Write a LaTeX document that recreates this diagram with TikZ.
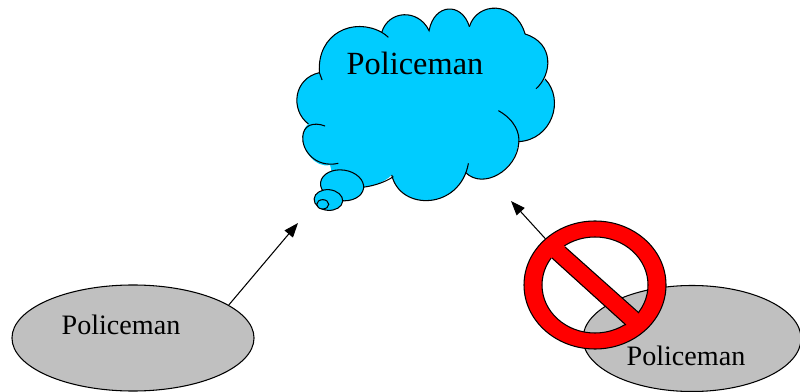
\documentclass[tikz,border=0pt]{standalone}
\usepackage{fontspec}
\setmainfont{Liberation Serif}
\usetikzlibrary{shapes.geometric,arrows.meta}
\definecolor{cloudblue}{RGB}{0,204,255}
\definecolor{ellgray}{RGB}{192,192,192}
\tikzset{
  px/.style={x=0.025cm,y=-0.025cm},
  ln/.style={line width=0.75pt,draw=black},
  ell/.style={ellipse,draw=black,line width=0.75pt,fill=ellgray,inner sep=0pt,minimum width=#1,minimum height=2.65cm},
  lbl/.style={font=\fontsize{20}{22}\selectfont,inner sep=0pt},
  arrowline/.style={line width=0.75pt,-{Triangle[length=0.36cm,width=0.27cm]}}
}
\begin{document}
\begin{tikzpicture}[px]
\useasboundingbox (0,0) rectangle (800,392);
% cloud, in zoomed coordinates (3x, offset 280)
\begin{scope}[xshift=7cm,x=0.025cm/3,y=-0.025cm/3]
\fill[cloudblue] (305,97)
  .. controls (325,30) and (415,25) .. (447,92)
  .. controls (462,10) and (545,5) .. (568,80)
  .. controls (590,5) and (705,0) .. (735,102)
  .. controls (825,130) and (815,225) .. (768,266) -- (795,237)
  .. controls (855,300) and (815,420) .. (715,425)
  .. controls (710,510) and (610,570) .. (557,518) -- (565,490)
  .. controls (540,630) and (360,635) .. (335,525)
  .. controls (310,550) and (270,560) .. (245,562)
  -- (170,580) -- (150,495)
  .. controls (105,505) and (65,450) .. (68,410)
  .. controls (70,390) and (75,380) .. (85,372)
  .. controls (30,330) and (40,235) .. (118,218)
  .. controls (110,100) and (220,50) .. (305,97)
  -- cycle;
\draw[ln] (325,112) .. controls (318,105) and (311,101) .. (305,97)
  .. controls (325,30) and (415,25) .. (447,92)
  .. controls (462,10) and (545,5) .. (568,80);
\draw[ln] (568,80) .. controls (590,5) and (705,0) .. (735,102);
\draw[ln] (735,102) .. controls (825,130) and (815,225) .. (768,266);
\draw[ln] (795,237) .. controls (855,300) and (815,420) .. (715,425);
\draw[ln] (655,332) .. controls (705,360) and (720,400) .. (716,430)
  .. controls (710,510) and (610,570) .. (557,518);
\draw[ln] (565,490) .. controls (540,630) and (360,635) .. (335,525);
\draw[ln] (340,530) .. controls (310,550) and (270,560) .. (245,562);
\draw[ln] (175,490) .. controls (105,505) and (65,450) .. (68,410)
  .. controls (70,375) and (100,365) .. (135,378);
\draw[ln] (85,372) .. controls (30,330) and (40,235) .. (118,218) -- (126,240);
\draw[ln] (118,218) .. controls (110,100) and (220,50) .. (305,97);
\draw[ln,fill=cloudblue,rotate around={-8:(186,556)}] (186,556) ellipse [x radius=65,y radius=46];
\draw[ln,fill=cloudblue,rotate around={-5:(145,600)}] (145,600) ellipse [x radius=43,y radius=31];
\draw[ln,fill=cloudblue] (128,613) ellipse [x radius=18,y radius=14];
\end{scope}
\node[lbl,font=\fontsize{23}{25}\selectfont] (cloudtext) at (415,63) {Policeman};
% ellipses
\node[ell=6.05cm] (L) at (133,338) {};
\node[ell=5.45cm] (R) at (692,338.5) {};
\node[lbl] (ltext) at (121,325) {Policeman};
\node[lbl] (rtext) at (686,356) {Policeman};
\coordinate (lhead) at (298,223);
\coordinate (rhead) at (511,201);
\node[ellipse,minimum width=3.55cm,minimum height=3.2cm,inner sep=0pt] (ban) at (595,285) {};
\draw[arrowline] (L.19) -- (lhead);
\draw[arrowline] (ban.137) -- (rhead);
% prohibition sign
\fill[red,even odd rule,draw=black,line width=0.75pt] (595,285) ellipse [x radius=71,y radius=64] (595,285) ellipse [x radius=53,y radius=48];
\fill[red] (547,254) -- (560,242) -- (644,318) -- (631,330) -- cycle;
\draw[ln] (552,258) -- (626,325);
\draw[ln] (565,247) -- (639,313);
\end{tikzpicture}
\end{document}
